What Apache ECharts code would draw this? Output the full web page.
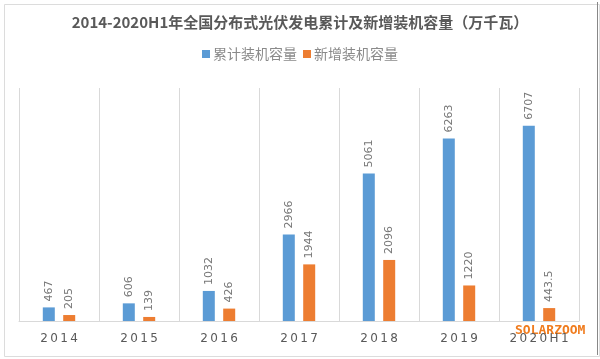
<!DOCTYPE html>
<html>
<head>
<meta charset="utf-8">
<script src="https://cdn.jsdelivr.net/npm/echarts@6/dist/echarts.min.js"></script>
<style>
html,body{margin:0;padding:0;background:#fff;}
#c{width:600px;height:359px;}
</style>
</head>
<body>
<div id="c"></div>
<script>
var titleText = '2014-2020H1年全国分布式光伏发电累计及新增装机容量（万千瓦）';
var categories = ['2014', '2015', '2016', '2017', '2018', '2019', '2020H1'];
var seriesNames = ['累计装机容量', '新增装机容量'];
var cumulative = [467, 606, 1032, 2966, 5061, 6263, 6707];
var added = [205, 139, 426, 1944, 2096, 1220, 443.5];
var watermark = 'SOLARZOOM';

var chart = echarts.init(document.getElementById('c'), null, {renderer: 'canvas'});
var font = '"Microsoft YaHei", "Noto Sans CJK SC", sans-serif';
var labelOpt = {
  show: true, position: 'top', rotate: 90, align: 'left', verticalAlign: 'middle',
  distance: 6, color: '#777', fontSize: 11, fontFamily: 'DejaVu Sans'
};
chart.setOption({
  animation: false,
  backgroundColor: '#fff',
  title: {
    text: titleText, left: 'center', top: 10,
    textStyle: {fontSize: 15, fontWeight: 'bold', color: '#595959', fontFamily: font}
  },
  legend: {
    data: seriesNames, top: 42, left: 'center', itemWidth: 8, itemHeight: 8, itemGap: 6,
    icon: 'rect',
    textStyle: {fontSize: 14, color: '#8a8a8a', fontFamily: '"Noto Sans CJK SC", sans-serif', padding: [0, 0, 0, -2]}
  },
  grid: {left: 19, right: 21, top: 88, bottom: 38},
  xAxis: {
    type: 'category', data: categories,
    axisLine: {lineStyle: {color: '#d9d9d9', width: 1}},
    axisTick: {show: false},
    splitLine: {show: true, lineStyle: {color: '#d9d9d9', width: 1}},
    axisLabel: {
      color: '#595959', fontSize: 12, margin: 12, fontFamily: 'DejaVu Sans',
      formatter: function (v) { return v.split('').join('\u2009'); }
    }
  },
  yAxis: {
    type: 'value', min: 0, max: 8000, show: false, splitLine: {show: false}
  },
  series: [
    {name: seriesNames[0], type: 'bar', data: cumulative, barWidth: 12, barGap: '70%',
      itemStyle: {color: '#5b9bd5'}, label: labelOpt},
    {name: seriesNames[1], type: 'bar', data: added, barWidth: 12,
      itemStyle: {color: '#ed7d31'}, label: labelOpt}
  ],
  graphic: [
    {type: 'rect', left: 2, top: 2, shape: {width: 595, height: 352}, silent: true,
      style: {fill: 'none', stroke: '#dcdcdc', lineWidth: 1}},
    {type: 'line', shape: {x1: 597.5, y1: 2, x2: 597.5, y2: 355}, style: {stroke: '#888', lineWidth: 1}},
    {type: 'text', left: 515, top: 324, style: {text: watermark, fill: '#f07c1e', font: 'bold 13px "DejaVu Sans Mono", monospace'}}
  ]
});
</script>
</body>
</html>
